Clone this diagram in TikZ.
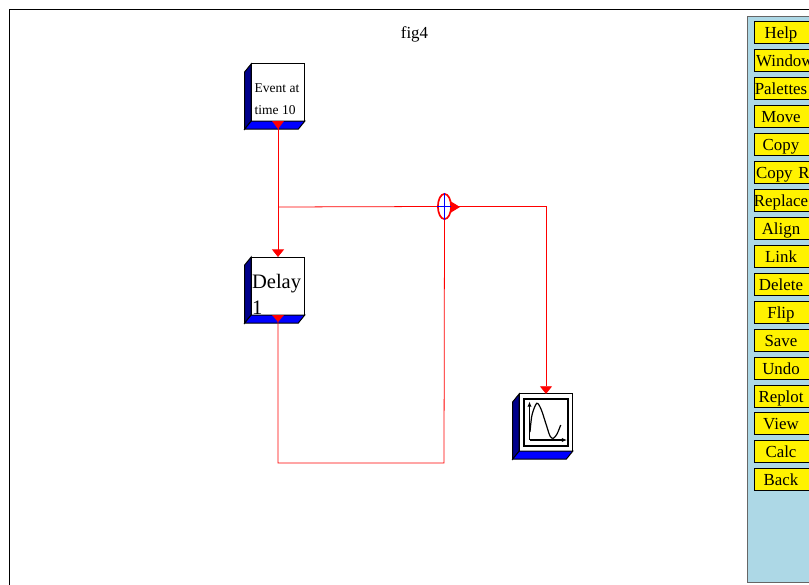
\documentclass[tikz,border=0pt]{standalone}
\usepackage{fontspec}
\setmainfont{Liberation Serif}
\usepackage{amsmath, amssymb}
\usetikzlibrary{positioning,arrows.meta,fit,shapes.geometric}
\definecolor{panelblue}{RGB}{173,216,230}
\definecolor{sidenavy}{RGB}{0,0,139}
\tikzset{
  wire/.style={red, line width=0.55pt},
  wirearrow/.style={wire, -{Triangle[length=0.19cm, width=0.3cm]}},
  block/.style={draw, line width=0.7pt, fill=white, inner sep=0pt, outer sep=0pt, minimum width=1.34cm, minimum height=1.43cm, align=left},
  button/.style={draw, line width=0.45pt, fill=yellow, anchor=west, inner sep=0pt, outer sep=0pt, text width=1.7cm, minimum height=0.55cm, text height=12.4pt, text depth=2.6pt, align=left, font=\fontsize{12}{14}\selectfont}
}
\newcommand{\btntext}[1]{\makebox[1.35cm][c]{#1}}
\newcommand{\btnleft}[1]{\hspace{1.5pt}#1}
% sides of a block, drawn under its face
\newcommand{\blocksides}[1]{
  \filldraw[fill=sidenavy, line width=0.7pt] (#1.north west) -- ++(-6.5,8) -- ([shift={(-6.5,8)}]#1.south west) -- (#1.south west) -- cycle;
  \filldraw[fill=blue, line width=0.7pt] (#1.south west) -- ++(-6.5,8) -- ([shift={(-6.5,8)}]#1.south east) -- (#1.south east) -- cycle;
}
\begin{document}
\begin{tikzpicture}[x=0.025cm, y=-0.025cm, >=Latex]
  \useasboundingbox (0,0) rectangle (809,585);
  % window frame
  \draw[line width=1.3pt] (809,9.5) -- (9.5,9.5) -- (9.5,585);
  \node[font=\fontsize{12}{14}\selectfont] (title) at (414.5,34.5) {fig4};

  % blocks
  \node[block, font=\fontsize{9.6}{15.5}\selectfont] (event) at (278,92.5) {\rule{0pt}{15.2pt}Event at\hspace{1.5pt}\null\\time 10};
  \node[block, minimum height=1.45cm, font=\fontsize{14.6}{18.5}\selectfont] (delay) at (278,286) {\rule{0pt}{22pt}Delay\hspace{2pt}\null\\1};
  \node[block] (scope) at (546,422.5) {};
  \blocksides{event}
  \blocksides{delay}
  \blocksides{scope}

  % scope icon
  \node[draw, line width=1pt, inner sep=0pt, minimum width=1.09cm, minimum height=1.17cm] (screen) at (546,422.5) {};
  \draw[-{Latex[length=0.13cm, width=0.11cm]}, line width=0.75pt] (529.5,440) -- (529.5,401.5);
  \draw[-{Latex[length=0.13cm, width=0.11cm]}, line width=0.75pt] (529.5,440) -- (567,440);
  \draw[line width=0.85pt] plot[smooth] coordinates {(530,432) (532,415) (536.7,403.3) (541,409) (546,424) (550,436) (553.3,438.3) (557,434) (560.7,425)};

  % split
  \node[draw=red, line width=1.2pt, ellipse, inner sep=0pt, minimum width=0.33cm, minimum height=0.63cm] (split) at (444.5,206.5) {};
  \coordinate (jn) at (278,207);

  % links
  \draw[wirearrow] (event.south) -- (delay.north);
  \draw[wire] (jn) -- (split.west);
  \draw[blue, line width=0.8pt] (split.north) -- (split.south);
  \draw[blue, line width=0.55pt] (split.west) -- (split.east);
  \draw[wire] (delay.south) |- (444,463) -- (split.south);
  \draw[wirearrow] (split.east) -| (scope.north);

  % output ports
  \fill[red] (272,121) -- (284,121) -- (278,129) -- cycle;
  \fill[red] (272,315) -- (284,315) -- (278,322) -- cycle;
  \fill[red] (451,201.5) -- (460,207) -- (451,212.5) -- cycle;

  % palette
  \node[draw=black!60, line width=0.75pt, fill=panelblue, anchor=north west, inner sep=0pt, minimum width=2cm, minimum height=14.15cm] (panel) at (747,15.5) {};
  \node[button] (help) at (754,32) {\btntext{Help}};
  \node[button] (windows) at (754,60) {\btnleft{Window}};
  \node[button] (palettes) at (754,88) {\btntext{Palettes}};
  \node[button] (move) at (754,116) {\btntext{Move}};
  \node[button] (copy) at (754,144) {\btntext{Copy}};
  \node[button] (copyr) at (754,172) {\btnleft{Copy R}};
  \node[button] (replace) at (754,200) {\btntext{Replace}};
  \node[button] (align) at (754,228) {\btntext{Align}};
  \node[button] (link) at (754,256) {\btntext{Link}};
  \node[button] (delete) at (754,284) {\btntext{Delete}};
  \node[button] (flip) at (754,312) {\btntext{Flip}};
  \node[button] (save) at (754,340) {\btntext{Save}};
  \node[button] (undo) at (754,368) {\btntext{Undo}};
  \node[button] (replot) at (754,396) {\btntext{Replot}};
  \node[button] (view) at (754,423) {\btntext{View}};
  \node[button] (calc) at (754,451) {\btntext{Calc}};
  \node[button] (back) at (754,479) {\btntext{Back}};
\end{tikzpicture}
\end{document}
